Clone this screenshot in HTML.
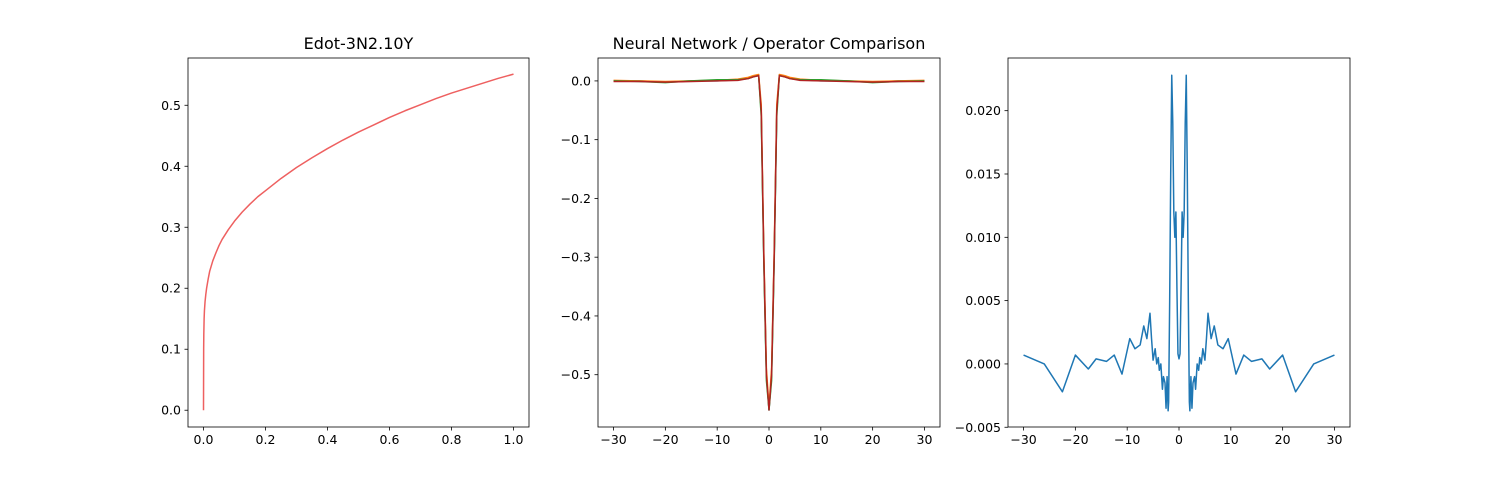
<!DOCTYPE html>
<html><head><meta charset="utf-8"><style>
html,body{margin:0;padding:0;background:#fff}
svg{display:block;font-family:"DejaVu Sans","Liberation Sans",sans-serif}
</style></head><body>
<svg id="fig" width="1500" height="480" viewBox="0 0 1500 480"></svg>
<script>
// Panel 1 data
const p1X=[0,0.0005,0.001,0.002,0.003,0.005,0.0075,0.01,0.015,0.02,0.03,0.04,0.05,0.06,0.08,0.1,0.125,0.15,0.175,0.2,0.25,0.3,0.35,0.4,0.45,0.5,0.55,0.6,0.65,0.7,0.75,0.8,0.85,0.9,0.95,1.0];
const p1Y=[0,0.1,0.125,0.15,0.163,0.178,0.19,0.2,0.215,0.228,0.245,0.258,0.27,0.28,0.296,0.31,0.325,0.338,0.35,0.36,0.38,0.398,0.414,0.429,0.443,0.456,0.468,0.48,0.491,0.501,0.511,0.52,0.528,0.536,0.544,0.551];
const p1XTicks=[0,0.2,0.4,0.6,0.8,1.0];
const p1YTicks=[0,0.1,0.2,0.3,0.4,0.5];
// Panel 2 data
const p2X=[-30,-25,-20,-15,-10,-6,-4,-3,-2,-1.5,-1,-0.5,0,0.5,1,1.5,2,3,4,6,10,15,20,25,30];
const p2S1=[0,0,-0.002,0,0,0.002,0.005,0.008,0.01,-0.05,-0.3,-0.5,-0.56,-0.5,-0.3,-0.05,0.01,0.008,0.005,0.002,0,0,-0.002,0,0];
const p2S2=[0.001,0,-0.001,0,0.001,0.003,0.006,0.009,0.011,-0.04,-0.29,-0.49,-0.555,-0.49,-0.29,-0.04,0.011,0.009,0.006,0.003,0.001,0,-0.001,0,0.001];
const p2S3=[0,-0.001,-0.003,0,0.002,0.002,0.004,0.007,0.009,-0.06,-0.31,-0.51,-0.56,-0.51,-0.31,-0.06,0.009,0.007,0.004,0.002,0.002,0,-0.003,-0.001,0];
const p2S4=[-0.001,-0.001,-0.002,-0.001,0,0.001,0.004,0.007,0.009,-0.05,-0.3,-0.5,-0.56,-0.5,-0.3,-0.05,0.009,0.007,0.004,0.001,0,-0.001,-0.002,-0.001,-0.001];
const p2XTicks=[-30,-20,-10,0,10,20,30];
const p2YTicks=[0,-0.1,-0.2,-0.3,-0.4,-0.5];
// Panel 3 data
const p3X=[-30,-26,-22.5,-20,-17.5,-16,-14,-12.5,-11,-9.5,-8.5,-7.5,-6.8,-6.2,-5.6,-5.3,-5,-4.6,-4.3,-4,-3.8,-3.5,-3.2,-3,-2.7,-2.5,-2.3,-2.1,-2,-1.8,-1.6,-1.4,-1.2,-1,-0.8,-0.6,-0.4,-0.2,0,0.2,0.4,0.6,0.8,1,1.2,1.4,1.6,1.8,2,2.1,2.3,2.5,2.7,3,3.2,3.5,3.8,4,4.3,4.6,5,5.3,5.6,6.2,6.8,7.5,8.5,9.5,11,12.5,14,16,17.5,20,22.5,26,30];
const p3Y=[0.0007,0,-0.0022,0.0007,-0.0004,0.0004,0.0002,0.0007,-0.0008,0.002,0.0012,0.0015,0.003,0.002,0.004,0.002,0.0003,0.0012,0,0.0005,-0.0005,0,-0.002,-0.001,-0.0015,-0.0035,-0.001,-0.0037,-0.003,0.005,0.015,0.0228,0.019,0.012,0.01,0.012,0.006,0.0008,0.0004,0.0008,0.006,0.012,0.01,0.012,0.019,0.0228,0.015,0.005,-0.003,-0.0037,-0.001,-0.0035,-0.0015,-0.001,-0.002,0,-0.0005,0.0005,0,0.0012,0.0003,0.002,0.004,0.002,0.003,0.0015,0.0012,0.002,-0.0008,0.0007,0.0002,0.0004,-0.0004,0.0007,-0.0022,0,0.0007];
const p3XTicks=[-30,-20,-10,0,10,20,30];
const p3YTicks=[-0.005,0,0.005,0.01,0.015,0.02];

const NS="http://www.w3.org/2000/svg";
const svg=document.getElementById('fig');
function mk(tag,attrs,parent){const e=document.createElementNS(NS,tag);for(const k in attrs)e.setAttribute(k,attrs[k]);(parent||svg).appendChild(e);return e;}

function panel(box,xd,yd,xt,yt,xfmt,yfmt,series,title,name){
  const [L,R,T,B]=box;
  const sx=v=>L+(v-xd[0])/(xd[1]-xd[0])*(R-L);
  const sy=v=>B-(v-yd[0])/(yd[1]-yd[0])*(B-T);
  const g=mk('g',{});
  
  
  series.forEach(s=>{
    const p=mk('polyline',{points:s.x.map((v,i)=>sx(v).toFixed(2)+','+sy(s.y[i]).toFixed(2)).join(' '),fill:'none',stroke:s.c,'stroke-width':1.5,'stroke-linejoin':'round'},g);
    
    
  });
  const fr=mk('rect',{x:L,y:T,width:R-L,height:B-T,fill:'none',stroke:'#000','stroke-width':0.8},g);
  
  
  xt.forEach(v=>{const x=sx(v);
    mk('line',{x1:x,x2:x,y1:B,y2:B+3.5,stroke:'#000','stroke-width':0.8},g);
    const t=mk('text',{x:x,y:B+17,'font-size':'12.5','text-anchor':'middle',fill:'#000'},g);t.textContent=xfmt(v);
    
    });
  yt.forEach(v=>{const y=sy(v);
    mk('line',{x1:L-3.5,x2:L,y1:y,y2:y,stroke:'#000','stroke-width':0.8},g);
    const t=mk('text',{x:L-7,y:y+4.5,'font-size':'12.5','text-anchor':'end',fill:'#000'},g);t.textContent=yfmt(v);
    
    });
  if(title){const t=mk('text',{x:(L+R)/2,y:T-9,'font-size':'16','text-anchor':'middle',fill:'#000'},g);t.textContent=title;
    
    }
}
const minus=s=>s.replace('-','\u2212');
panel([188,529,58,427],[-0.05,1.05],[-0.0275,0.5775],p1XTicks,p1YTicks,v=>v.toFixed(1),v=>v.toFixed(1),
  [{x:p1X,y:p1Y,c:'#ee6060',n:'edot-curve'}],'Edot-3N2.10Y','left-panel');
panel([598,940,58,427],[-33,33],[-0.589,0.039],p2XTicks,p2YTicks,v=>minus(String(v)),v=>minus(v.toFixed(1)),
  [{x:p2X,y:p2S1,c:'#1f77b4',n:'series-blue'},{x:p2X,y:p2S2,c:'#ff7f0e',n:'series-orange'},{x:p2X,y:p2S3,c:'#2ca02c',n:'series-green'},{x:p2X,y:p2S4,c:'#b22222',n:'series-red'}],
  'Neural Network / Operator Comparison','middle-panel');
panel([1008,1350,58,427],[-33,33],[-0.00498,0.02416],p3XTicks,p3YTicks,v=>minus(String(v)),v=>minus(v.toFixed(3)),
  [{x:p3X,y:p3Y,c:'#1f77b4',n:'difference-line'}],null,'right-panel');
</script>
</body></html>
